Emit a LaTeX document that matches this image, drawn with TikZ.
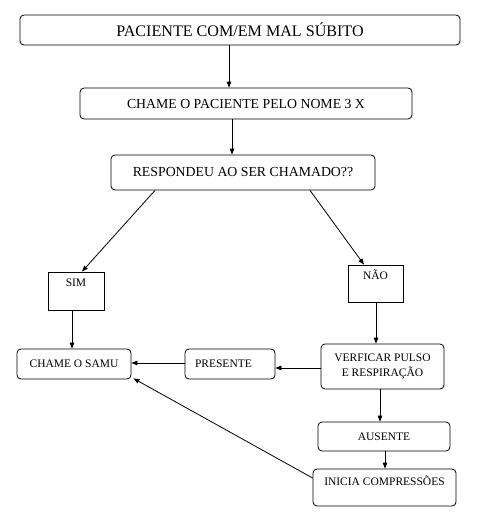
\documentclass[tikz,border=0pt]{standalone}
\usepackage{fontspec}
\setmainfont{Liberation Serif}
\usetikzlibrary{arrows.meta}
\begin{document}
\begin{tikzpicture}[x=1pt,y=-1pt,
  box/.style={draw=black,line width=0.8pt,rounded corners=4pt,inner sep=0pt,align=center},
  sqbox/.style={draw=black,line width=0.8pt,inner sep=0pt},
  big/.style={font=\fontsize{16.1}{18}\selectfont},
  mid/.style={font=\fontsize{13.8}{16}\selectfont},
  small/.style={font=\fontsize{11.5}{15}\selectfont},
  arr/.style={draw=black,line width=0.8pt,-{Triangle[length=6pt,width=4.5pt]}}]
\useasboundingbox (0,0) rectangle (480,514);
\node[box,big,minimum width=440,minimum height=30] (top) at (240,30) {PACIENTE COM/EM MAL SÚBITO};
\node[box,mid,minimum width=332,minimum height=31] (chame) at (246,103.5) {CHAME O PACIENTE PELO NOME 3 X};
\node[box,mid,minimum width=264,minimum height=35] (resp) at (243,172.5) {RESPONDEU AO SER CHAMADO??};
\node[sqbox,minimum width=56,minimum height=38,label={[small,anchor=north,inner sep=0pt,yshift=-7pt]north:SIM}] (sim) at (76,291) {};
\node[sqbox,minimum width=55,minimum height=37,label={[small,anchor=north,inner sep=0pt,yshift=-5pt]north:NÃO}] (nao) at (375.5,283.5) {};
\node[box,small,minimum width=114,minimum height=30] (samu) at (74,364) {CHAME O SAMU};
\node[box,small,minimum width=90,minimum height=30,text width=70pt,align=left,inner xsep=10pt] (pres) at (230,364) {PRESENTE};
\node[box,small,minimum width=123,minimum height=45] (verf) at (382.5,366.5) {VERFICAR PULSO\\E RESPIRAÇÃO};
\node[box,small,minimum width=132,minimum height=29] (aus) at (384,436.5) {AUSENTE};
\node[box,minimum width=143,minimum height=37,label={[small,anchor=north,inner sep=0pt,yshift=-7pt]north:INICIA COMPRESSÕES}] (inicia) at (384.5,487.5) {};
\draw[arr] (top.south -| 229,0) -- (chame.north -| 229,0);
\draw[arr] (chame.south -| 232,0) -- (resp.north -| 232,0);
\draw[arr] ([xshift=-88]resp.south) -- ([xshift=6]sim.north);
\draw[arr] ([xshift=67]resp.south) -- ([xshift=-11.5]nao.north);
\draw[arr] (sim.south -| 72,0) -- (samu.north -| 72,0);
\draw[arr] (nao.south -| 376,0) -- (verf.north -| 376,0);
\draw[arr] (verf.west |- 0,368) -- (pres.east |- 0,368);
\draw[arr] (pres.west |- 0,363) -- (samu.east |- 0,363);
\draw[arr] (verf.south -| 380,0) -- (aus.north -| 380,0);
\draw[arr] (aus.south -| 385,0) -- (inicia.north -| 385,0);
\draw[arr] (inicia.west |- 0,478) -- ([xshift=2,yshift=1]samu.south east);
\end{tikzpicture}
\end{document}
